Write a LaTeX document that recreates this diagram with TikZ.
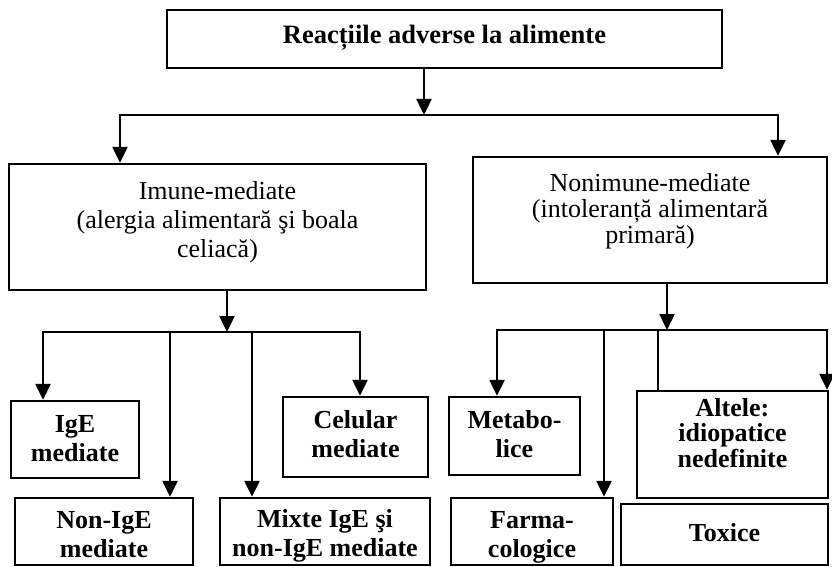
\documentclass[tikz,border=0pt]{standalone}
\usepackage{fontspec}
\setmainfont{Liberation Serif}
\usetikzlibrary{arrows.meta}
\begin{document}
\begin{tikzpicture}[x=1pt,y=-1pt,
  box/.style={draw, line width=2.4pt, inner sep=0pt},
  txt/.style={inner sep=0pt, align=center},
  maintxt/.style={txt, font=\fontsize{26}{29}\selectfont},
  subtxt/.style={txt, font=\bfseries\fontsize{26}{29}\selectfont},
  ln/.style={line width=2.4pt, line cap=rect},
  arr/.style={line width=2.4pt, -{Triangle[width=15pt,length=16pt]}}]
\useasboundingbox (0,0) rectangle (832,567);
% boxes
\node[box, minimum width=555pt, minimum height=58pt] (top) at (444.5,39) {};
\node[box, minimum width=417pt, minimum height=126pt] (imune) at (217.5,227) {};
\node[box, minimum width=354pt, minimum height=126pt] (nonimune) at (650,220) {};
\node[box, minimum width=128pt, minimum height=77pt] (ige) at (75,439.5) {};
\node[box, minimum width=178pt, minimum height=67pt] (nonige) at (104,531.5) {};
\node[box, minimum width=210pt, minimum height=67pt] (mixte) at (325,531.5) {};
\node[box, minimum width=145pt, minimum height=80pt] (celular) at (355.5,437) {};
\node[box, minimum width=131pt, minimum height=78pt] (metabo) at (514.5,436) {};
\node[box, minimum width=162pt, minimum height=67pt] (farma) at (532,531.5) {};
\node[box, minimum width=191pt, minimum height=107pt] (altele) at (732.5,444.5) {};
\node[box, minimum width=207pt, minimum height=61pt] (toxice) at (724.5,534.5) {};
% texts
\node[txt, font=\bfseries\fontsize{26.5}{29}\selectfont] (topT) at (444.5,38) {Reacțiile adverse la alimente};
\node[maintxt] (imuneT) at (217.5,222) {Imune-mediate\\(alergia alimentară şi boala\\celiacă)};
\node[txt, font=\fontsize{26}{26}\selectfont] (nonimuneT) at (650,211) {Nonimune-mediate\\(intoleranță alimentară\\primară)};
\node[subtxt] (igeT) at (75,438.5) {IgE\\mediate};
\node[subtxt] (nonigeT) at (104,535) {Non-IgE\\mediate};
\node[subtxt] (mixteT) at (325,536) {Mixte IgE şi\\non-IgE mediate};
\node[subtxt] (celularT) at (355.5,434.5) {Celular\\mediate};
\node[subtxt] (metaboT) at (514.5,434) {Metabo-\\lice};
\node[subtxt] (farmaT) at (532,537) {Farma-\\cologice};
\node[txt, font=\bfseries\fontsize{26}{25.5}\selectfont] (alteleT) at (732.5,433) {Altele:\\idiopatice\\nedefinite};
\node[subtxt] (toxiceT) at (724.5,532.5) {Toxice};
% top level connectors
\coordinate (h0) at (424,115);
\coordinate (hL) at (120,115);
\coordinate (hR) at (778,115);
\draw[arr] (top.south -| h0) -- (h0);
\draw[ln] (hL) -- (hR);
\draw[arr] (hL) -- (hL |- imune.north);
\draw[arr] (hR) -- (hR |- nonimune.north);
% immune branch
\coordinate (i0) at (227,332);
\coordinate (i1) at (43,332);
\coordinate (i2) at (170,332);
\coordinate (i3) at (252,332);
\coordinate (i4) at (360,332);
\draw[arr] (imune.south -| i0) -- (i0);
\draw[ln] (i1) -- (i4);
\draw[arr] (i1) -- (i1 |- ige.north);
\draw[arr] (i2) -- (i2 |- nonige.north);
\draw[arr] (i3) -- (i3 |- mixte.north);
\draw[arr] (i4) -- (i4 |- celular.north);
% non-immune branch
\coordinate (n0) at (667,330);
\coordinate (n1) at (497,330);
\coordinate (n2) at (604,330);
\coordinate (n3) at (658,330);
\coordinate (n4) at (827,330);
\draw[arr] (nonimune.south -| n0) -- (n0);
\draw[ln] (n1) -- (n4);
\draw[arr] (n1) -- (n1 |- metabo.north);
\draw[arr] (n2) -- (n2 |- farma.north);
\draw[ln] (n3) -- (n3 |- altele.north);
\draw[arr] (n4) -- (n4 |- altele.north);
\end{tikzpicture}
\end{document}
